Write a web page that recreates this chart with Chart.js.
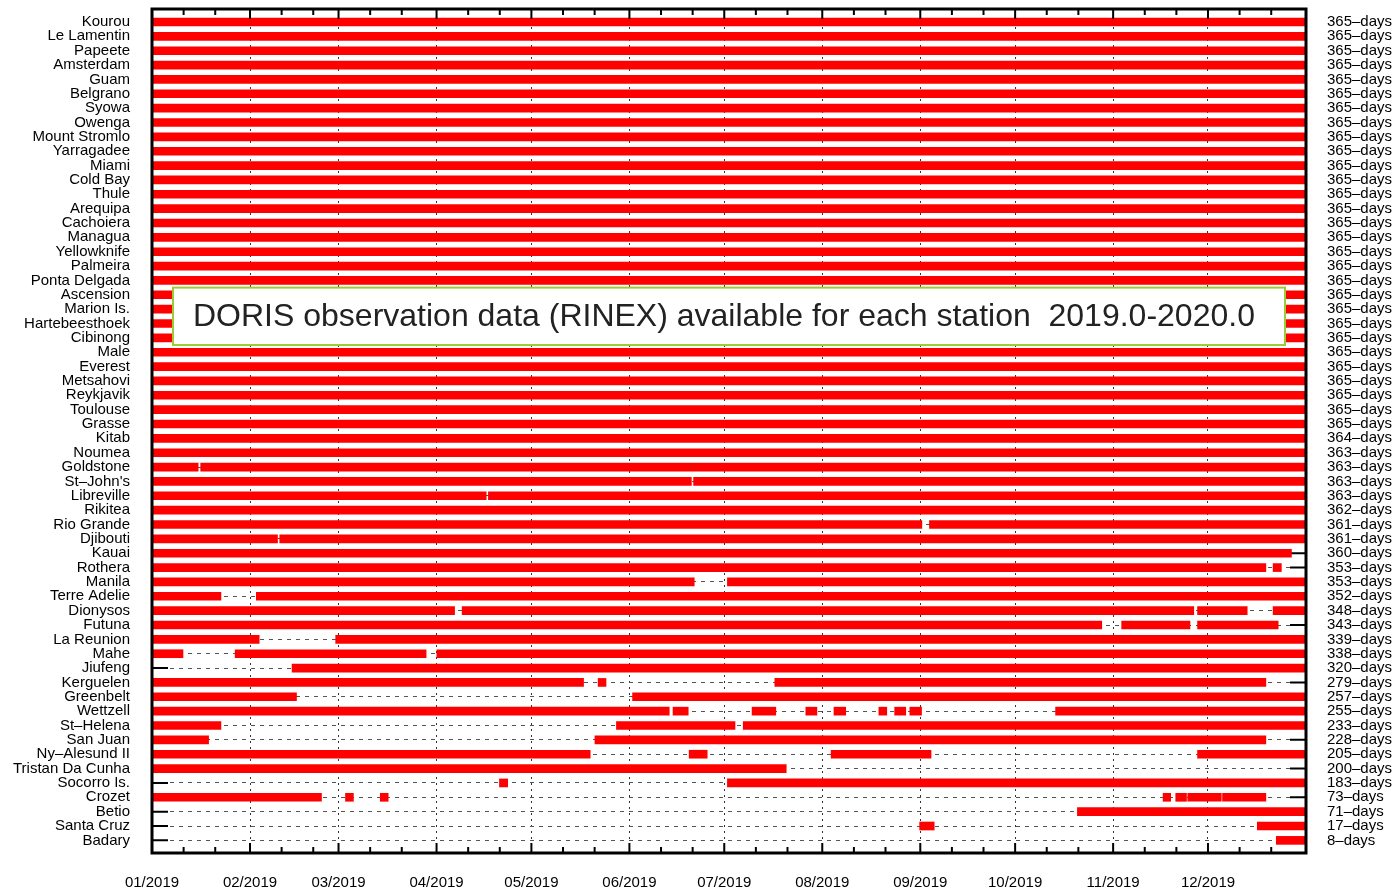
<!DOCTYPE html>
<html>
<head>
<meta charset="utf-8">
<script src="https://cdn.jsdelivr.net/npm/chart.js@4/dist/chart.umd.min.js"></script>
<style>
  html, body { margin: 0; padding: 0; background: #fff; }
</style>
</head>
<body>
<canvas id="myChart" width="1398" height="888"></canvas>
<script>
// stations, top to bottom
var stations = ["Kourou", "Le Lamentin", "Papeete", "Amsterdam", "Guam", "Belgrano", "Syowa", "Owenga",
  "Mount Stromlo", "Yarragadee", "Miami", "Cold Bay", "Thule", "Arequipa", "Cachoiera", "Managua",
  "Yellowknife", "Palmeira", "Ponta Delgada", "Ascension", "Marion Is.", "Hartebeesthoek", "Cibinong",
  "Male", "Everest", "Metsahovi", "Reykjavik", "Toulouse", "Grasse", "Kitab", "Noumea", "Goldstone",
  "St–John's", "Libreville", "Rikitea", "Rio Grande", "Djibouti", "Kauai", "Rothera", "Manila",
  "Terre Adelie", "Dionysos", "Futuna", "La Reunion", "Mahe", "Jiufeng", "Kerguelen", "Greenbelt",
  "Wettzell", "St–Helena", "San Juan", "Ny–Alesund II", "Tristan Da Cunha", "Socorro Is.", "Crozet",
  "Betio", "Santa Cruz", "Badary"];

// number of days with data (right-hand labels)
var daysAvailable = [365, 365, 365, 365, 365, 365, 365, 365, 365, 365, 365, 365, 365, 365, 365, 365,
  365, 365, 365, 365, 365, 365, 365, 365, 365, 365, 365, 365, 365, 364, 363, 363, 363, 363, 362, 361,
  361, 360, 353, 353, 352, 348, 343, 339, 338, 320, 279, 257, 255, 233, 228, 205, 200, 183, 73, 71, 17, 8];

// data periods per station, in day-of-year [start, end]
var FULL = [[0, 365]];
var segments = [
  FULL, FULL, FULL, FULL, FULL, FULL, FULL, FULL, FULL, FULL,
  FULL, FULL, FULL, FULL, FULL, FULL, FULL, FULL, FULL, FULL,
  FULL, FULL, FULL, FULL, FULL, FULL, FULL, FULL, FULL,
  FULL,                                   // Kitab
  FULL,                                   // Noumea
  [[0, 14.6], [15.4, 365]],               // Goldstone
  [[0, 170.6], [171.3, 365]],             // St-John's
  [[0, 105.7], [106.4, 365]],             // Libreville
  FULL,                                   // Rikitea
  [[0, 243.5], [245.9, 365]],             // Rio Grande
  [[0, 39.7], [40.4, 365]],               // Djibouti
  [[0, 360.4]],                           // Kauai
  [[0, 352.3], [354.6, 357.2]],           // Rothera
  [[0, 171.5], [182, 365]],               // Manila
  [[0, 21.8], [33, 365]],                 // Terre Adelie
  [[0, 95.7], [98.1, 329.5], [330.7, 346.4], [354.6, 365]],   // Dionysos
  [[0, 300.4], [306.7, 328.3], [330.7, 356.2]],               // Futuna
  [[0, 33.9], [58.1, 365]],               // La Reunion
  [[0, 9.8], [26.3, 86.7], [90.1, 365]],  // Mahe
  [[44.3, 365]],                          // Jiufeng
  [[0, 136.5], [141.1, 143.6], [197, 352.3]],                 // Kerguelen
  [[0, 45.7], [152, 365]],                // Greenbelt
  [[0, 163.6], [164.8, 169.6], [189.8, 197.3], [206.8, 210.3], [215.7, 219.4],
   [229.9, 232.4], [234.9, 238.4], [239.7, 243.4], [285.8, 365]],   // Wettzell
  [[0, 21.8], [146.9, 184.4], [187, 365]],                    // St-Helena
  [[0, 17.9], [140.1, 352.3]],            // San Juan
  [[0, 138.6], [169.9, 175.6], [214.8, 246.4], [330.7, 365]], // Ny-Alesund II
  [[0, 200.6]],                           // Tristan Da Cunha
  [[109.9, 112.5], [182, 365]],           // Socorro Is.
  [[0, 53.6], [61.2, 63.7], [72.2, 74.7], [319.8, 322.2], [323.8, 327.2],
   [327.6, 338.2], [338.6, 352.3]],       // Crozet
  [[292.7, 365]],                         // Betio
  [[242.8, 247.4], [349.6, 365]],         // Santa Cruz
  [[355.6, 365]]                          // Badary
];

var monthStarts = [0, 31, 59, 90, 120, 151, 181, 212, 243, 273, 304, 334];
var monthLabels = ["01/2019", "02/2019", "03/2019", "04/2019", "05/2019", "06/2019",
  "07/2019", "08/2019", "09/2019", "10/2019", "11/2019", "12/2019"];
var titleText = "DORIS observation data (RINEX) available for each station  2019.0-2020.0";

Chart.defaults.font.family = "'Liberation Sans', Arial, sans-serif";
Chart.defaults.color = "#000";

// one dataset per segment slot, bars overlap in the same row
var maxSegs = Math.max.apply(null, segments.map(function(s){ return s.length; }));
var datasets = [];
for (var k = 0; k < maxSegs; k++) {
  var pts = [];
  segments.forEach(function(segs, i){
    if (segs[k]) pts.push({ x: segs[k], y: i });
  });
  datasets.push({
    data: pts,
    backgroundColor: "#ff0000",
    borderWidth: 0,
    borderSkipped: false,
    barThickness: 8,
    grouped: false
  });
}

function noPad(s){
  s.paddingTop = 0; s.paddingBottom = 0; s.paddingLeft = 0; s.paddingRight = 0;
}

var framePlugin = {
  id: "frame",
  beforeDatasetsDraw: function(chart){
    // y tic marks on both borders (hidden under bars where data exists)
    var ctx = chart.ctx, a = chart.chartArea, ys = chart.scales.y;
    ctx.save();
    ctx.strokeStyle = "#000";
    ctx.lineWidth = 2;
    stations.forEach(function(_, i){
      var py = ys.getPixelForValue(i);
      ctx.beginPath();
      ctx.moveTo(a.left, py); ctx.lineTo(a.left + 16, py);
      ctx.moveTo(a.right - 16, py); ctx.lineTo(a.right, py);
      ctx.stroke();
    });
    ctx.restore();
  },
  afterDatasetsDraw: function(chart){
    var ctx = chart.ctx, a = chart.chartArea, xs = chart.scales.x, ys = chart.scales.y;
    ctx.save();
    // x tic marks, inward, top and bottom
    ctx.strokeStyle = "#000";
    ctx.lineWidth = 2;
    monthStarts.forEach(function(m){
      [[m, 10], [m + 10, 6], [m + 20, 6]].forEach(function(t){
        if (t[0] <= 0 || t[0] >= 365) return;
        var px = xs.getPixelForValue(t[0]);
        ctx.beginPath();
        ctx.moveTo(px, a.bottom); ctx.lineTo(px, a.bottom - t[1]);
        ctx.moveTo(px, a.top); ctx.lineTo(px, a.top + t[1]);
        ctx.stroke();
      });
    });
    // border
    ctx.lineWidth = 3;
    ctx.strokeRect(a.left, a.top, a.right - a.left, a.bottom - a.top);

    // title box
    var bx = a.left + 21, bw = a.right - a.left - 42;
    var by = ys.getPixelForValue(18.5), bh = ys.getPixelForValue(22.5) - by;
    ctx.fillStyle = "#fff";
    ctx.fillRect(bx, by, bw, bh);
    ctx.strokeStyle = "#9acd32";
    ctx.lineWidth = 2;
    ctx.strokeRect(bx, by, bw, bh);
    ctx.fillStyle = "#222";
    ctx.font = "32px 'Liberation Sans', Arial, sans-serif";
    ctx.textBaseline = "middle";
    ctx.fillText(titleText, bx + 20, by + bh / 2 + 1);
    ctx.restore();
  }
};

var ctx = document.getElementById("myChart");
var myChart = new Chart(ctx, {
  type: "bar",
  data: { datasets: datasets },
  options: {
    indexAxis: "y",
    responsive: false,
    animation: false,
    layout: { padding: { top: 9, left: 0, right: 0, bottom: 0 } },
    plugins: {
      legend: { display: false },
      tooltip: { enabled: false }
    },
    scales: {
      x: {
        type: "linear",
        position: "bottom",
        min: 0,
        max: 365,
        afterBuildTicks: function(s){ s.ticks = monthStarts.map(function(v){ return { value: v }; }); },
        afterFit: function(s){ s.height = 35; noPad(s); },
        grid: { color: "#333", lineWidth: 1, drawTicks: false },
        border: { display: false, dash: [2, 4] },
        ticks: {
          autoSkip: false,
          maxRotation: 0,
          padding: 21,
          font: { size: 15 },
          callback: function(v){ return monthLabels[monthStarts.indexOf(v)]; }
        }
      },
      y: {
        type: "linear",
        position: "left",
        reverse: true,
        offset: false,
        min: -0.905,
        max: 57.88,
        afterBuildTicks: function(s){ s.ticks = stations.map(function(_, i){ return { value: i }; }); },
        afterFit: function(s){ s.width = 152; noPad(s); },
        grid: { color: "#555", lineWidth: 1, drawTicks: false, offset: false },
        border: { display: false, dash: [4, 5] },
        ticks: {
          autoSkip: false,
          padding: 22,
          font: { size: 15 },
          callback: function(v){ return stations[v]; }
        }
      },
      y2: {
        type: "linear",
        position: "right",
        reverse: true,
        offset: false,
        min: -0.905,
        max: 57.88,
        afterBuildTicks: function(s){ s.ticks = daysAvailable.map(function(_, i){ return { value: i }; }); },
        afterFit: function(s){ s.width = 92; noPad(s); },
        grid: { display: false, drawTicks: false, offset: false },
        border: { display: false },
        ticks: {
          autoSkip: false,
          padding: 21,
          font: { size: 15 },
          callback: function(v){ return daysAvailable[v] + "–days"; }
        }
      }
    }
  },
  plugins: [framePlugin]
});
</script>
</body>
</html>
